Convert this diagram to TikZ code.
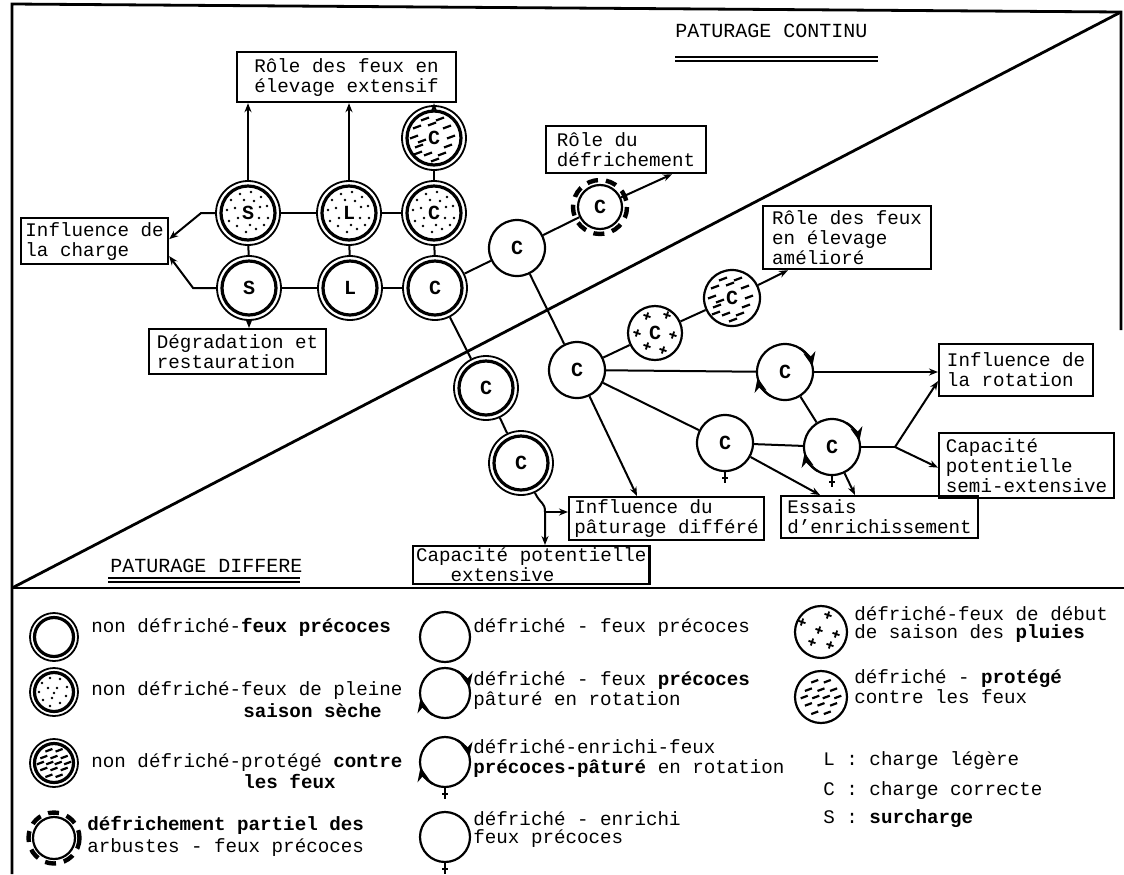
\documentclass[tikz,border=0pt]{standalone}
\usepackage{fontspec}
\setmainfont{Liberation Mono}
\usetikzlibrary{arrows.meta,calc}

\newcommand\dotsD{\foreach \a/\b in {-17/-13,-8/-19,3/-21,13/-16,19/-7,-21/-3,-13/-5,12/-6,20/5,-19/8,-11/13,-2/19,8/16,16/12,-4/-13,6/-12,-10/5,11/5,2/12}{\fill ($(path picture bounding box.center)+(\a,\b)$) circle (1.3);}}
\newcommand\dotsL{\foreach \a/\b in {-12/-9,-4/-14,6/-13,13/-5,-15/0,-6/-4,3/-4,12/4,-11/8,-2/6,6/11,-4/14,0/1}{\fill ($(path picture bounding box.center)+(\a,\b)$) circle (1.3);}}
\newcommand\hatchD{\foreach \a/\b in {-9/-19,6/-19,-17/-11,-2/-14,13/-11,-20/-1,17/-1,-12/3,-15/8,14/8,-6/16,8/16,-16/15,1/22}{\draw[line width=1.1pt] ($(path picture bounding box.center)+(\a-4,\b+1.5)$) -- ++(8,-3);}}
\newcommand\hatchL[1]{\foreach \a/\b in {-6/-15,6/-15,-12/-7,0/-7,12/-7,-16/0,-5/0,5/0,16/0,-12/7,0/7,12/7,-6/15,6/15}{\draw[line width=1.1pt] ($(path picture bounding box.center)+(#1*\a-3.5,#1*\b+1.3)$) -- ++(7,-2.6);}}
\newcommand\starsP[1]{\foreach \a/\b in {#1}{\draw[line width=0.9pt] ($(path picture bounding box.center)+(\a,\b)$) +(-3.5,-1.2) -- +(3.5,1.2) +(1.2,-3.5) -- +(-1.2,3.5);}}
\newcommand\enrtick[1]{\draw[line width=1pt] (#1.south) -- ++(0,11); \draw[line width=1pt] ($(#1.south)+(-3,6)$) -- ++(6,0);}
\newcommand\rotarrows[2]{%
 \draw[line width=1.1pt,-{Stealth[length=7pt,width=6pt]}] ([shift={(120:#2)}]#1.center) arc[start angle=120,end angle=168,radius=#2];
 \draw[line width=1.1pt,-{Stealth[length=7pt,width=6pt]}] ([shift={(-60:#2)}]#1.center) arc[start angle=-60,end angle=-12,radius=#2];}

\begin{document}
\begin{tikzpicture}[x=0.5pt,y=-0.5pt,
 ln/.style={line width=1pt},
 arr/.style={line width=1pt,-{Stealth[length=4.5pt,width=3.5pt]}},
 frame/.style={line width=1.4pt},
 box/.style={draw,line width=1.1pt,inner xsep=1.5pt,inner ysep=0.8pt,align=left,anchor=north west,font=\fontsize{9.6}{10}\selectfont},
 lgt/.style={anchor=mid west,inner sep=0pt,font=\fontsize{9.6}{10}\selectfont},
 ttl/.style={anchor=mid west,inner sep=0pt,font=\fontsize{10}{10}\selectfont},
 circ/.style={circle,draw,inner sep=0pt,line width=1.1pt,font=\fontsize{10}{10}\selectfont\bfseries},
 sgl/.style={circ,minimum size=#1},
 sgl/.default=28pt,
 dbl/.style n args={3}{circ,line width=0.9pt,minimum size=#1,path picture={\draw[line width=1.6pt] (path picture bounding box.center) circle (#2); #3}},
 pat/.style={path picture={#1}},
 dsh/.style={line width=2.2pt,dash pattern=on 5.5pt off 4pt}
]
\useasboundingbox (0,0) rectangle (1124,874);

% frame
\draw[frame] (12,874) -- (12,4) -- (1121,12) -- (1121,330);
\draw[frame] (12,588) -- (1124,588);
\draw[frame] (12,588) -- (1121,12);

% titles
\node[ttl] (tcont) at (675,32) {PATURAGE CONTINU};
\draw[line width=0.8pt] (675,57) -- (878,57);
\draw[line width=1.3pt] (675,61) -- (878,61);
\node[ttl] (tdiff) at (110,567) {PATURAGE DIFFERE};
\draw[line width=1.1pt] (108,578) -- (300,578);
\draw[line width=1.1pt] (108,582) -- (300,582);

% boxes
\node[box,minimum width=109.5pt,minimum height=25pt] (feuxext) at (236,51) {Rôle des feux en\\élevage extensif};
\node[box,minimum width=73.5pt,minimum height=23pt] (charge) at (20,217) {Influence de\\la charge};
\node[box,minimum width=88.5pt,minimum height=22.5pt] (degrad) at (148,328) {Dégradation et\\restauration};
\node[box,minimum width=80pt,minimum height=23.5pt] (defr) at (545,125) {Rôle du\\défrichement};
\node[box,minimum width=84pt,minimum height=31.5pt] (amel) at (762,205) {Rôle des feux\\en élevage\\amélioré};
\node[box,minimum width=77pt,minimum height=26pt] (rotbox) at (938,343) {Influence de\\la rotation};
\node[box,minimum width=87.5pt,minimum height=32.5pt] (capsemi) at (938,432) {Capacité\\potentielle\\semi-extensive};
\node[box,minimum width=98.5pt,minimum height=21pt] (essais) at (780,495) {Essais\\d'enrichissement};
\node[box,minimum width=97.5pt,minimum height=21.5pt] (differe) at (568,496) {Influence du\\pâturage différé};
\node[box,minimum width=118pt,minimum height=19pt] (capext) at (412,545) {Capacité potentielle\\\hphantom{xxx}extensive};

% circles
\node[dbl={32pt}{27}{\dotsD}] (s1) at (248,213) {S};
\node[dbl={32pt}{27}{\dotsD}] (l1) at (349,213) {L};
\node[dbl={32pt}{27}{\dotsD}] (c1) at (434,213) {C};
\node[dbl={32pt}{27}{\hatchD}] (ch) at (434,138) {C};
\node[dbl={32pt}{27}{}] (s2) at (249,288) {S};
\node[dbl={32pt}{27}{}] (l2) at (350,288) {L};
\node[dbl={32pt}{27}{}] (c2) at (435,288) {C};
\node[dbl={32pt}{27}{}] (cd1) at (486,388) {C};
\node[dbl={32pt}{27}{}] (cd2) at (521,463) {C};
\node[sgl] (cp) at (517,248) {C};
\node[sgl=22pt] (cdash) at (600,207) {C};
\draw[dsh] (cdash.center) circle (27);
\node[sgl] (cbig) at (577,370) {C};
\node[sgl=27pt,pat={\starsP{-8/-17,12/-18,-18/0,18/2,-8/13,8/17}}] (cstar) at (655,333) {C};
\node[sgl,pat={\hatchD}] (chat) at (732,298) {C};
\node[sgl] (rotc) at (785,372) {C};
\rotarrows{rotc}{28}
\node[sgl] (cmid) at (725,443) {C};
\enrtick{cmid}
\node[sgl] (cre) at (832,447) {C};
\rotarrows{cre}{28}
\enrtick{cre}
\coordinate (jr) at (895,447);
\coordinate (j2) at (545,512);

% connectors
\draw[ln] (s1) -- (l1);
\draw[ln] (l1) -- (c1);
\draw[ln] (s2) -- (l2);
\draw[ln] (l2) -- (c2);
\draw[ln] (s1) -- (s2);
\draw[ln] (l1) -- (l2);
\draw[ln] (c1) -- (c2);
\draw[ln] (ch) -- (c1);
\draw[ln] (c2) -- (cp);
\draw[ln] (cp) -- (cdash);
\draw[ln] (cp) -- (cbig);
\draw[ln] (cbig) -- (cstar);
\draw[ln] (cstar) -- (chat);
\draw[ln] (cbig) -- (rotc);
\draw[ln] (cbig) -- (cmid);
\draw[ln] (cmid) -- (cre);
\draw[ln] (rotc) -- (cre);
\draw[ln] (c2) -- (cd1);
\draw[ln] (cd1) -- (cd2);
\draw[ln] (cre) -- (jr);

\draw[arr] (s1) -- (s1 |- feuxext.south);
\draw[arr] (l1) -- (l1 |- feuxext.south);
\draw[arr] (ch) -- (ch |- feuxext.south);
\draw[arr] (s1.west) -- ++(-14,0) -- ($(charge.east)+(0,-2)$);
\draw[arr] (s2.west) -- ++(-23,0) -- ($(charge.east)+(0,15)$);
\draw[arr] (s2) -- (s2 |- degrad.north);
\draw[arr] (cdash) -- ($(defr.south west)+(127,0)$);
\draw[arr] (chat) -- ($(amel.south west)+(26,0)$);
\draw[arr] (rotc) -- (rotc -| rotbox.west);
\draw[arr] (jr) -- ($(rotbox.west)+(0,11)$);
\draw[arr] (jr) -- ($(capsemi.west)+(0,2)$);
\draw[arr] (cbig) -- ($(differe.north west)+(69,0)$);
\draw[arr] (cmid) -- ($(essais.north west)+(40,0)$);
\draw[arr] (cre) -- ($(essais.north west)+(75,0)$);
\draw[arr] (cd2.295) .. controls +(6,12) and +(0,-10) .. (j2) -- (j2 |- capext.north);
\draw[arr] (j2) -- (j2 -| differe.west);

% legend
\node[dbl={24pt}{19.5}{}] (lg1) at (54,637) {};
\node[dbl={24pt}{19.5}{\dotsL}] (lg2) at (54,692) {};
\node[dbl={24pt}{19.5}{\hatchL{0.85}}] (lg3) at (54,763) {};
\node[sgl=21pt] (lg4) at (54,838) {};
\draw[dsh] (lg4.center) circle (25.5);
\node[sgl=25pt] (lg5) at (445,637) {};
\node[sgl=25pt] (lg6) at (445,693) {};
\rotarrows{lg6}{25}
\node[sgl=25pt] (lg7) at (445,762) {};
\rotarrows{lg7}{25}
\enrtick{lg7}
\node[sgl=25pt] (lg8) at (445,837) {};
\enrtick{lg8}
\node[sgl=26pt,pat={\starsP{-19/-10,7/-17,-2/-2,15/2,-9/10,9/13}}] (lg9) at (821,632) {};
\node[sgl=26pt,pat={\hatchL{1.05}}] (lg10) at (821,697) {};

\node[lgt] (t1) at (91,627) {non défriché-\textbf{feux précoces}};
\node[lgt] (t2a) at (91,690) {non défriché-feux de pleine};
\node[lgt] (t2b) at (243,712) {\textbf{saison sèche}};
\node[lgt] (t3a) at (91,762) {non défriché-protégé \textbf{contre}};
\node[lgt] (t3b) at (243,783) {\textbf{les feux}};
\node[lgt] (t4a) at (87,825) {\textbf{défrichement partiel des}};
\node[lgt] (t4b) at (87,847) {arbustes - feux précoces};
\node[lgt] (m1) at (473,627) {défriché - feux précoces};
\node[lgt] (m2a) at (473,680) {défriché - feux \textbf{précoces}};
\node[lgt] (m2b) at (473,700) {pâturé en rotation};
\node[lgt] (m3a) at (473,748) {défriché-enrichi-feux};
\node[lgt] (m3b) at (473,768) {\textbf{précoces-pâturé} en rotation};
\node[lgt] (m4a) at (473,820) {défriché - enrichi};
\node[lgt] (m4b) at (473,838) {feux précoces};
\node[lgt] (r1a) at (854,615) {défriché-feux de début};
\node[lgt] (r1b) at (854,633) {de saison des \textbf{pluies}};
\node[lgt] (r2a) at (854,678) {défriché - \textbf{protégé}};
\node[lgt] (r2b) at (854,698) {contre les feux};
\node[lgt] (kl) at (823,760) {L : charge légère};
\node[lgt] (kc) at (823,790) {C : charge correcte};
\node[lgt] (ks) at (823,818) {S : \textbf{surcharge}};
\end{tikzpicture}
\end{document}
